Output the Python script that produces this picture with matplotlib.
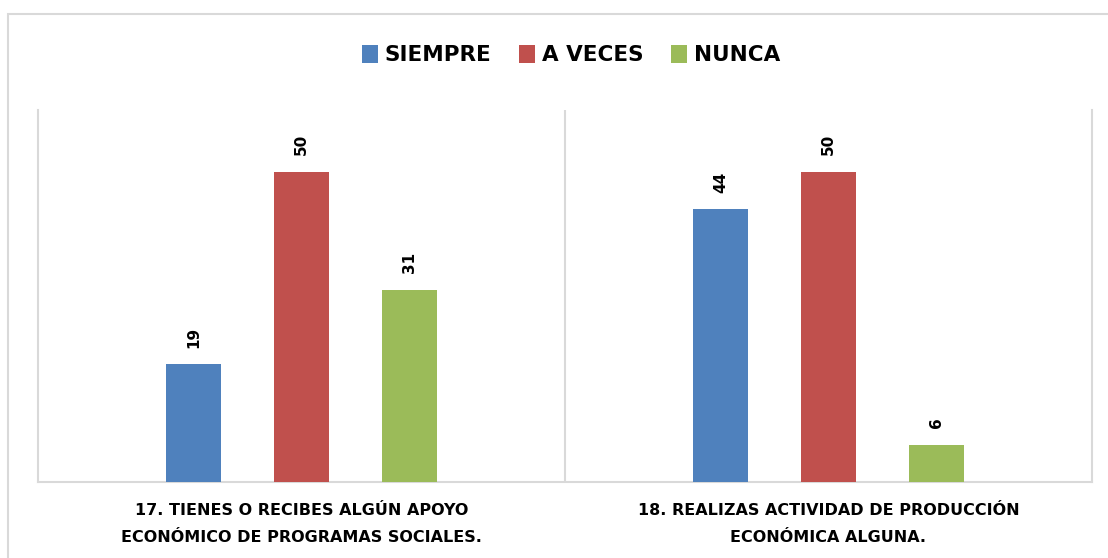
import matplotlib
matplotlib.use("Agg")
import matplotlib.pyplot as plt
from matplotlib.patches import Rectangle
import numpy as np

categories = ["17. TIENES O RECIBES ALGÚN APOYO\nECONÓMICO DE PROGRAMAS SOCIALES.",
              "18. REALIZAS ACTIVIDAD DE PRODUCCIÓN\nECONÓMICA ALGUNA."]
series_names = ["SIEMPRE", "A VECES", "NUNCA"]
siempre = [19, 44]
a_veces = [50, 50]
nunca = [31, 6]
colors = ["#4F81BD", "#C0504D", "#9BBB59"]

W, H = 1108, 558
fig = plt.figure(figsize=(W / 100, H / 100), dpi=100)
fig.patch.set_facecolor("white")

# outer chart frame
fig.patches.append(Rectangle((8 / W, -0.05), 1.2, 1 - 14 / H + 0.05, transform=fig.transFigure,
                             fill=False, edgecolor="#D9D9D9", linewidth=1.5))

left, right, top, bottom = 38, 1092, 110, 482
ax = fig.add_axes([left / W, 1 - bottom / H, (right - left) / W, (bottom - top) / H])

x = np.arange(len(categories))
width = 0.106
offset = 0.205
values = [siempre, a_veces, nunca]
for i, (name, vals, c) in enumerate(zip(series_names, values, colors)):
    bars = ax.bar(x + (i - 1) * offset, vals, width, color=c, label=name, zorder=3)
    for b, v in zip(bars, vals):
        ax.annotate(str(v), (b.get_x() + b.get_width() / 2, v), xytext=(0, 12),
                    textcoords="offset points", rotation=90, ha="center", va="bottom",
                    fontsize=11, fontweight="bold", family="DejaVu Sans")

ax.set_xlim(-0.5, len(categories) - 0.5)
ax.set_ylim(0, 60)
ax.set_yticks([])
ax.set_xticks(x)
ax.set_xticklabels(categories, fontsize=11.5, fontweight="bold", family="DejaVu Sans",
                   linespacing=2.05)
ax.tick_params(axis="x", length=0, pad=15)
ax.spines["top"].set_visible(False)
for s in ["left", "right", "bottom"]:
    ax.spines[s].set_color("#D9D9D9")
    ax.spines[s].set_linewidth(1.5)
ax.axvline(0.5, color="#D9D9D9", linewidth=1.5, zorder=1)

leg = fig.legend(loc="center", bbox_to_anchor=(571 / W, 1 - 55 / H), ncol=3, frameon=False,
                 prop={"weight": "bold", "size": 15.5, "family": "DejaVu Sans"},
                 handlelength=0.75, handleheight=0.9, handletextpad=0.3, columnspacing=1.3)

fig.savefig("out.png", dpi=100, facecolor="white")
